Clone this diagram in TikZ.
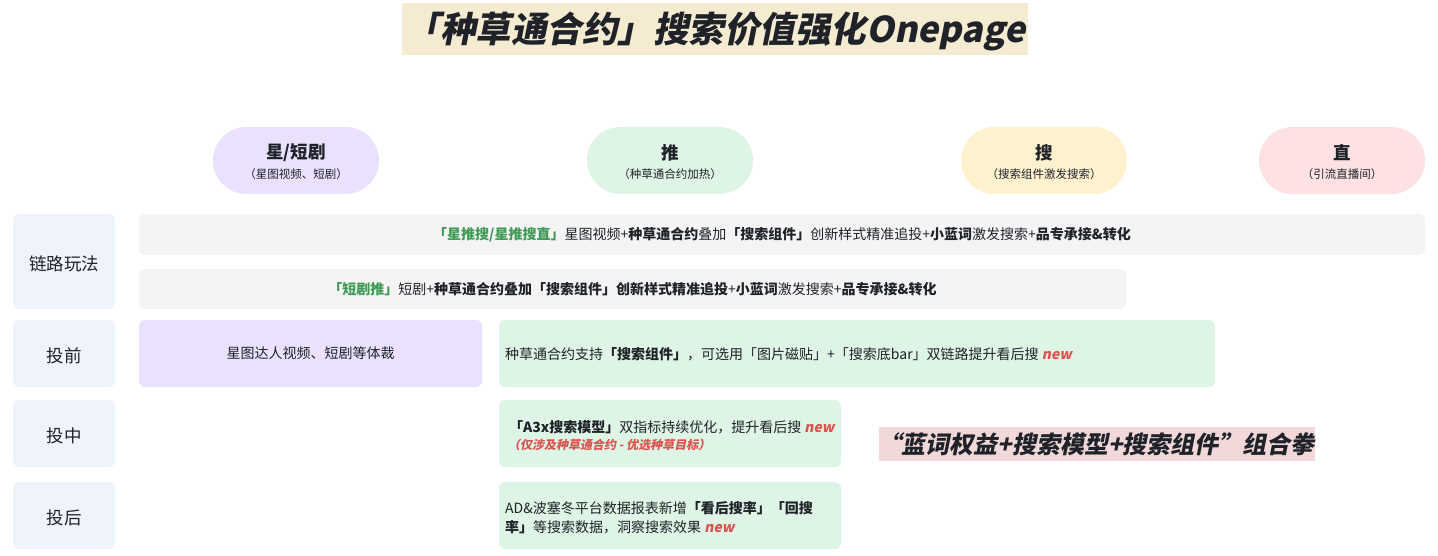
\documentclass[tikz,border=0pt]{standalone}
\usepackage{fontspec}
\setmainfont{Noto Sans CJK SC}
\newfontfamily\slfont{Noto Sans CJK SC}[FakeSlant=0.2]
\usetikzlibrary{shapes.misc}
\definecolor{ink}{HTML}{1F2329}
\definecolor{titlebg}{HTML}{F4EBD0}
\definecolor{purp}{HTML}{E9E1FD}
\definecolor{grnbg}{HTML}{DEF4E5}
\definecolor{yel}{HTML}{FEF1CE}
\definecolor{pinkp}{HTML}{FDE1E3}
\definecolor{lblbg}{HTML}{EEF3FC}
\definecolor{greyrow}{HTML}{F4F4F4}
\definecolor{fistbg}{HTML}{F2D8D8}
\definecolor{grn}{HTML}{3F9A57}
\definecolor{newred}{HTML}{D95450}
\newcommand{\newtag}{{\slfont\bfseries\color{newred}new}}
\begin{document}
\begin{tikzpicture}[x=1pt,y=-1pt,
  card/.style={rounded corners=6pt, inner sep=0pt, outer sep=0pt, anchor=north west, draw=none},
  pill/.style={rounded rectangle, minimum width=166pt, minimum height=67pt, inner sep=0pt, draw=none},
  pilltitle/.style={font=\bfseries\fontsize{17.5}{20}\selectfont, text=ink, inner sep=0pt},
  pillsub/.style={font=\fontsize{11.5}{14}\selectfont, text=ink, inner sep=0pt},
  lbl/.style={font=\fontsize{17.5}{20}\selectfont, text=ink, inner sep=0pt},
  body/.style={font=\fontsize{14}{17}\selectfont, text=ink, inner sep=0pt},
]
\useasboundingbox (0,0) rectangle (1438,556);
\fill[white] (0,0) rectangle (1438,556);

% title
\node[anchor=north west, fill=titlebg, minimum width=626pt, minimum height=52pt, inner sep=0pt] (titlebox) at (402,3) {};
\node[inner sep=0pt, text=ink, font=\slfont\bfseries\fontsize{35.5}{40}\selectfont] (title) at (715,31) {「种草通合约」搜索价值强化Onepage};

% pills
\node[pill, fill=purp] (p1) at (296,160.5) {};
\node[pilltitle] (p1t) at (296,153) {星/短剧};
\node[pillsub] (p1s) at (296,174) {（星图视频、短剧）};
\node[pill, fill=grnbg] (p2) at (670,160.5) {};
\node[pilltitle] (p2t) at (670,153) {推};
\node[pillsub] (p2s) at (670,174) {（种草通合约加热）};
\node[pill, fill=yel] (p3) at (1044,160.5) {};
\node[pilltitle] (p3t) at (1044,153) {搜};
\node[pillsub] (p3s) at (1044,174) {（搜索组件激发搜索）};
\node[pill, fill=pinkp] (p4) at (1342,160.5) {};
\node[pilltitle] (p4t) at (1342,153) {直};
\node[pillsub] (p4s) at (1342,174) {（引流直播间）};

% left labels
\node[card, fill=lblbg, minimum width=102pt, minimum height=95pt] (l1) at (13,214) {};
\node[lbl] (l1t) at ([yshift=-2pt]l1.center) {链路玩法};
\node[card, fill=lblbg, minimum width=102pt, minimum height=67pt] (l2) at (13,320) {};
\node[lbl] (l2t) at ([yshift=-2pt]l2.center) {投前};
\node[card, fill=lblbg, minimum width=102pt, minimum height=67pt] (l3) at (13,400) {};
\node[lbl] (l3t) at ([yshift=-2pt]l3.center) {投中};
\node[card, fill=lblbg, minimum width=102pt, minimum height=67pt] (l4) at (13,482) {};
\node[lbl] (l4t) at ([yshift=-2pt]l4.center) {投后};

% chain rows
\node[card, fill=greyrow, minimum width=1286pt, minimum height=41pt] (r1) at (139,214) {};
\node[body] (r1t) at (r1.center) {{\bfseries\color{grn}「星推搜/星推搜直」}星图视频+\textbf{种草通合约}叠加\textbf{「搜索组件」}创新样式精准追投+\textbf{小蓝词}激发搜索+\textbf{品专承接\&转化}};
\node[card, fill=greyrow, minimum width=987pt, minimum height=40pt] (r2) at (139,269) {};
\node[body] (r2t) at (r2.center) {{\bfseries\color{grn}「短剧推」}短剧+\textbf{种草通合约叠加「搜索组件」创新样式精准追投}+\textbf{小蓝词}激发搜索+\textbf{品专承接\&转化}};

% pre
\node[card, fill=purp, minimum width=343pt, minimum height=67pt] (b1) at (139,320) {};
\node[body] (b1t) at (b1.center) {星图达人视频、短剧等体裁};
\node[card, fill=grnbg, minimum width=716pt, minimum height=67pt] (b2) at (499,320) {};
\node[body, anchor=west] (b2t) at (505,354) {种草通合约支持\textbf{「搜索组件」}，可选用「图片磁贴」+「搜索底bar」双链路提升看后搜 \newtag};

% during
\node[card, fill=grnbg, minimum width=342pt, minimum height=67pt] (b3) at (499,400) {};
\node[body, anchor=west] (b3t) at (509,427) {\textbf{「A3x搜索模型」}双指标持续优化，提升看后搜 \newtag};
\node[inner sep=0pt, anchor=west, font=\slfont\bfseries\fontsize{12}{14}\selectfont, text=newred] (b3s) at (508,445) {（仅涉及种草通合约 - 优选种草目标）};

% after
\node[card, fill=grnbg, minimum width=342pt, minimum height=67pt] (b4) at (499,482) {};
\node[body, anchor=west] (b4t) at (505,508) {AD\&波塞冬平台数据报表新增\textbf{「看后搜率」「回搜}};
\node[body, anchor=west] (b4u) at (505,527) {\textbf{率」}等搜索数据，洞察搜索效果 \newtag};

% combo
\node[anchor=north west, fill=fistbg, minimum width=436pt, minimum height=34pt, inner sep=0pt] (fist) at (879,427) {};
\node[inner sep=0pt, text=ink, font=\slfont\bfseries\fontsize{24}{28}\selectfont] (fistt) at (1096,444) {“蓝词权益+搜索模型+搜索组件”组合拳};
\end{tikzpicture}
\end{document}
